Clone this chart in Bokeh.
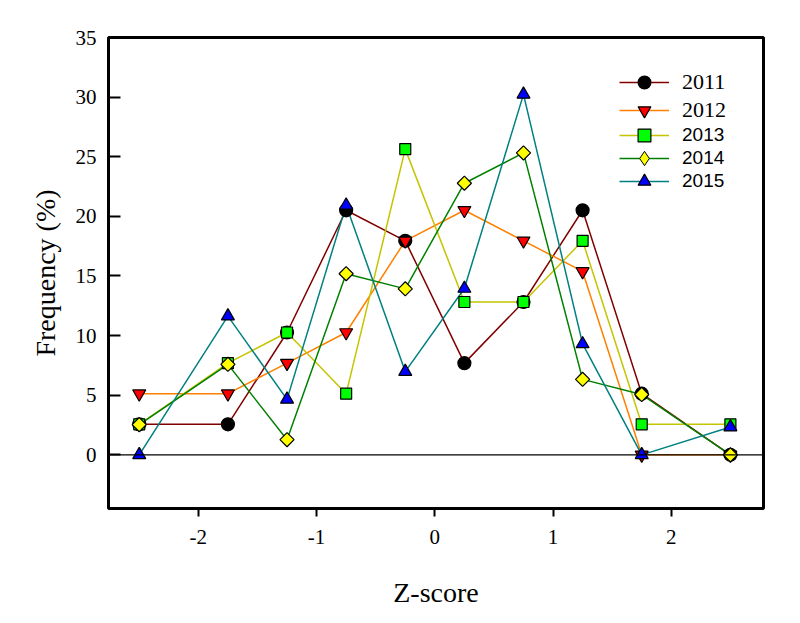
import math
from bokeh.plotting import figure
from bokeh.models import Span, Legend, LegendItem, FixedTicker, Range1d
from bokeh.embed import file_html
from bokeh.resources import INLINE

# Data
z_scores = [-2.5, -1.75, -1.25, -0.75, -0.25, 0.25, 0.75, 1.25, 1.75, 2.5]
freq_2011 = [2.56, 2.56, 10.26, 20.51, 17.95, 7.69, 12.82, 20.51, 5.13, 0.0]
freq_2012 = [5.13, 5.13, 7.69, 10.26, 17.95, 20.51, 17.95, 15.38, 0.0, 0.0]
freq_2013 = [2.56, 7.69, 10.26, 5.13, 25.64, 12.82, 12.82, 17.95, 2.56, 2.56]
freq_2014 = [2.53, 7.59, 1.27, 15.19, 13.92, 22.78, 25.32, 6.33, 5.06, 0.0]
freq_2015 = [0.0, 11.63, 4.65, 20.93, 6.98, 13.95, 30.23, 9.30, 0.0, 2.33]
years = ["2011", "2012", "2013", "2014", "2015"]
x_ticks = [-2, -1, 0, 1, 2]
x_tick_labels = ["-2", "-1", "0", "1", "2"]
y_ticks = [0, 5, 10, 15, 20, 25, 30, 35]

series = [freq_2011, freq_2012, freq_2013, freq_2014, freq_2015]
line_colors = ["#800000", "#FF8000", "#C4C400", "#008000", "#008080"]
fill_colors = ["#000000", "#FF0000", "#00FF00", "#FFFF00", "#0000FF"]
markers = ["circle", "inverted_triangle", "square", "square", "triangle"]
angles = [0, 0, 0, math.pi / 4, 0]
sizes = [13, 13, 11, 10, 13]

p = figure(frame_width=655, frame_height=471,
           x_range=Range1d(-2.76, 2.78), y_range=Range1d(-4.5, 35),
           output_backend="svg", toolbar_location=None,
           min_border_left=108, min_border_right=21,
           min_border_top=37, min_border_bottom=108)

p.xgrid.visible = False
p.ygrid.visible = False
p.outline_line_color = "black"
p.outline_line_width = 3
p.background_fill_color = "white"
p.border_fill_color = "white"

serif = "'Liberation Serif', 'Times New Roman', serif"
sans = "'Liberation Sans', Arial, sans-serif"

p.xaxis.ticker = FixedTicker(ticks=x_ticks)
p.xaxis.major_label_overrides = {t: s for t, s in zip(x_ticks, x_tick_labels)}
p.yaxis.ticker = FixedTicker(ticks=y_ticks)
p.yaxis.major_label_overrides = {t: str(t) for t in y_ticks}
for ax in (p.xaxis[0], p.yaxis[0]):
    ax.axis_line_color = None
    ax.minor_tick_line_color = None
    ax.major_tick_line_color = "black"
    ax.major_tick_line_width = 2
    ax.major_label_text_font = serif
    ax.major_label_text_font_size = "21px"
    ax.major_label_text_color = "black"
    ax.axis_label_text_font = serif
    ax.axis_label_text_font_size = "28px"
    ax.axis_label_text_font_style = "normal"
    ax.axis_label_text_color = "black"

p.xaxis.major_tick_in = 0
p.xaxis.major_tick_out = 8
p.xaxis.major_label_standoff = 13
p.xaxis.axis_label = "Z-score"
p.xaxis.axis_label_standoff = 30

p.yaxis.major_tick_in = 12
p.yaxis.major_tick_out = 0
p.yaxis.major_label_standoff = 12
p.yaxis.axis_label = "Frequency (%)"
p.yaxis.axis_label_standoff = 12

p.add_layout(Span(location=0, dimension="width", line_color="black", line_width=1.2))

line_rs = []
for ys, lc in zip(series, line_colors):
    line_rs.append(p.line(z_scores, ys, line_color=lc, line_width=1.5))

# diamond glyph for the 2014 legend key; drawn underneath the (wider) rotated squares
diamond_key = p.scatter(z_scores, freq_2014, marker="diamond", size=11,
                        fill_color=fill_colors[3], line_color="black", line_width=1.0)

marker_rs = []
for ys, fc, mk, sz, ang in zip(series, fill_colors, markers, sizes, angles):
    marker_rs.append(p.scatter(z_scores, ys, marker=mk, size=sz, angle=ang,
                               fill_color=fc, line_color="black", line_width=1.2))

legend_marker_rs = [marker_rs[0], marker_rs[1], marker_rs[2], diamond_key, marker_rs[4]]

# one legend per entry, so each row sits where the reference puts it
legend_vy = [410, 382, 357, 332, 311]
legend_gh = [32, 32, 32, 36, 32]
legend_fonts = [serif, serif, sans, sans, sans]
legend_sizes = ["22px", "22px", "19px", "19px", "19px"]
for i in range(5):
    leg = Legend(items=[LegendItem(label=years[i], renderers=[line_rs[i], legend_marker_rs[i]])],
                 location=(511, legend_vy[i]), padding=0, margin=0,
                 glyph_width=50, glyph_height=legend_gh[i], label_height=20, spacing=0,
                 label_standoff=13, label_text_font=legend_fonts[i],
                 label_text_font_size=legend_sizes[i], label_text_color="black",
                 border_line_color=None, background_fill_alpha=0)
    p.add_layout(leg, "center")

open("out.html", "w").write(file_html(p, INLINE))
